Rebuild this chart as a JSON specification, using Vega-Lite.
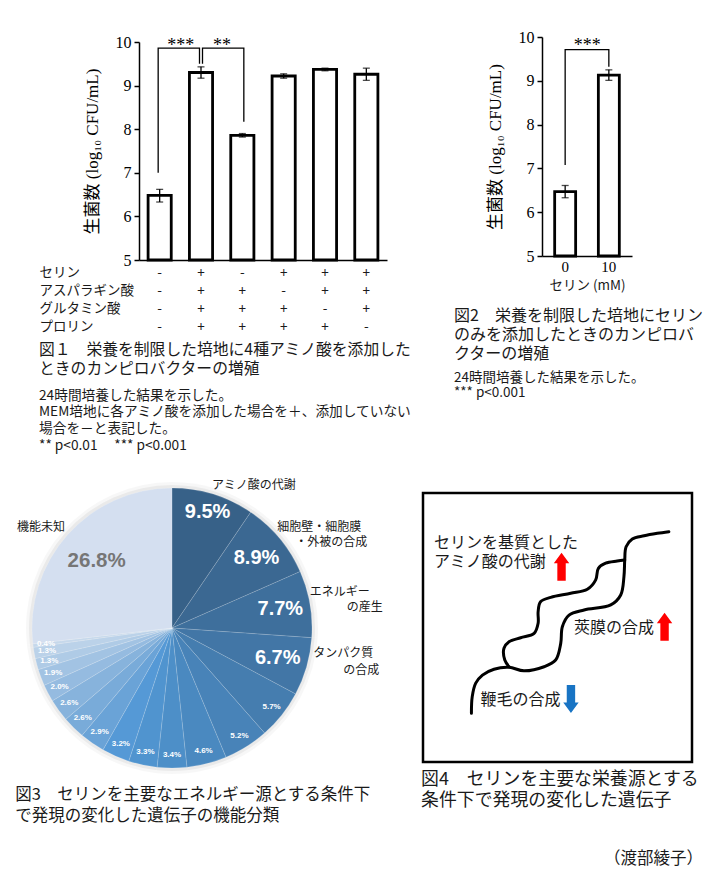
{
  "$schema": "https://vega.github.io/schema/vega-lite/v6.json",
  "background": "white",
  "padding": {"left": 13, "top": 29, "right": 0, "bottom": 0},
  "bounds": "flush",
  "spacing": 456,
  "config": {
    "view": {"stroke": null},
    "font": "Noto Sans CJK JP",
    "axis": {"grid": false},
    "title": {"fontWeight": "normal"}
  },
  "title": {"text": "（渡部綾子）", "orient": "bottom", "anchor": "end", "frame": "bounds", "fontSize": 16.5, "fontWeight": "normal", "font": "Noto Sans CJK JP", "color": "#1a1a1a", "offset": 26},
  "datasets": {
    "fig1": [
      {"cond": "-|-|-|-", "mean": 6.48, "lo": 6.33, "hi": 6.62},
      {"cond": "+|+|+|+", "mean": 9.30, "lo": 9.17, "hi": 9.43},
      {"cond": "-|+|+|+", "mean": 7.86, "lo": 7.82, "hi": 7.90},
      {"cond": "+|-|+|+", "mean": 9.22, "lo": 9.17, "hi": 9.27},
      {"cond": "+|+|-|+", "mean": 9.37, "lo": 9.34, "hi": 9.40},
      {"cond": "+|+|+|-", "mean": 9.26, "lo": 9.12, "hi": 9.40}
    ],
    "fig1br": [
      {"br": "a", "step": 1, "cond": "-|-|-|-", "y": 7.0},
      {"br": "a", "step": 2, "cond": "-|-|-|-", "y": 9.86},
      {"br": "a", "step": 3, "cond": "+|+|+|+", "y": 9.86},
      {"br": "a", "step": 4, "cond": "+|+|+|+", "y": 9.5},
      {"br": "b", "step": 1, "cond": "+|+|+|+", "y": 9.5},
      {"br": "b", "step": 2, "cond": "+|+|+|+", "y": 9.86},
      {"br": "b", "step": 3, "cond": "-|+|+|+", "y": 9.86},
      {"br": "b", "step": 4, "cond": "-|+|+|+", "y": 8.17}
    ],
    "fig1st": [
      {"cond": "-|-|-|-", "label": "***"},
      {"cond": "+|+|+|+", "label": "**"}
    ],
    "fig2": [
      {"serine": "0", "mean": 6.47, "lo": 6.33, "hi": 6.61},
      {"serine": "10", "mean": 9.13, "lo": 9.01, "hi": 9.25}
    ],
    "fig2br": [
      {"step": 1, "serine": "0", "y": 7.08},
      {"step": 2, "serine": "0", "y": 9.71},
      {"step": 3, "serine": "10", "y": 9.71},
      {"step": 4, "serine": "10", "y": 9.32}
    ],
    "fig2st": [{"serine": "0", "label": "***"}],
    "pie": [
      {"id": 1, "pct": 9.5, "label": "9.5%", "name": "アミノ酸の代謝", "name2": ""},
      {"id": 2, "pct": 8.9, "label": "8.9%", "name": "細胞壁・細胞膜", "name2": "・外被の合成"},
      {"id": 3, "pct": 7.7, "label": "7.7%", "name": "エネルギー", "name2": "の産生"},
      {"id": 4, "pct": 6.7, "label": "6.7%", "name": "タンパク質", "name2": "の合成"},
      {"id": 5, "pct": 5.7, "label": "5.7%", "name": "", "name2": ""},
      {"id": 6, "pct": 5.2, "label": "5.2%", "name": "", "name2": ""},
      {"id": 7, "pct": 4.6, "label": "4.6%", "name": "", "name2": ""},
      {"id": 8, "pct": 3.4, "label": "3.4%", "name": "", "name2": ""},
      {"id": 9, "pct": 3.3, "label": "3.3%", "name": "", "name2": ""},
      {"id": 10, "pct": 3.2, "label": "3.2%", "name": "", "name2": ""},
      {"id": 11, "pct": 2.9, "label": "2.9%", "name": "", "name2": ""},
      {"id": 12, "pct": 2.6, "label": "2.6%", "name": "", "name2": ""},
      {"id": 13, "pct": 2.6, "label": "2.6%", "name": "", "name2": ""},
      {"id": 14, "pct": 2.0, "label": "2.0%", "name": "", "name2": ""},
      {"id": 15, "pct": 1.9, "label": "1.9%", "name": "", "name2": ""},
      {"id": 16, "pct": 1.3, "label": "1.3%", "name": "", "name2": ""},
      {"id": 17, "pct": 1.3, "label": "1.3%", "name": "", "name2": ""},
      {"id": 18, "pct": 0.4, "label": "0.4%", "name": "", "name2": ""},
      {"id": 19, "pct": 26.8, "label": "26.8%", "name": "機能未知", "name2": ""}
    ],
    "cell": [
      {"path": "a", "step": 1, "x": 18.0, "y": 18.1},
      {"path": "a", "step": 2, "x": 18.3, "y": 24.3},
      {"path": "a", "step": 3, "x": 19.6, "y": 29.3},
      {"path": "a", "step": 4, "x": 22.1, "y": 32.3},
      {"path": "a", "step": 5, "x": 26.4, "y": 34.5},
      {"path": "a", "step": 6, "x": 32.0, "y": 35.2},
      {"path": "a", "step": 7, "x": 37.5, "y": 33.9},
      {"path": "a", "step": 8, "x": 45.0, "y": 35.4},
      {"path": "a", "step": 9, "x": 49.3, "y": 37.9},
      {"path": "a", "step": 10, "x": 51.2, "y": 44.1},
      {"path": "a", "step": 11, "x": 51.8, "y": 50.3},
      {"path": "a", "step": 12, "x": 54.3, "y": 54.6},
      {"path": "a", "step": 13, "x": 59.9, "y": 56.5},
      {"path": "a", "step": 14, "x": 69.8, "y": 58.4},
      {"path": "a", "step": 15, "x": 73.5, "y": 62.1},
      {"path": "a", "step": 16, "x": 74.7, "y": 68.9},
      {"path": "a", "step": 17, "x": 75.0, "y": 75.1},
      {"path": "a", "step": 18, "x": 75.5, "y": 80.0},
      {"path": "a", "step": 19, "x": 77.8, "y": 82.9},
      {"path": "a", "step": 20, "x": 82.2, "y": 84.1},
      {"path": "a", "step": 21, "x": 87.1, "y": 85.0},
      {"path": "a", "step": 22, "x": 91.4, "y": 85.6},
      {"path": "b", "step": 1, "x": 32.0, "y": 35.4},
      {"path": "b", "step": 2, "x": 30.4, "y": 37.9},
      {"path": "b", "step": 3, "x": 30.1, "y": 42.3},
      {"path": "b", "step": 4, "x": 32.0, "y": 44.7},
      {"path": "b", "step": 5, "x": 36.3, "y": 46.2},
      {"path": "b", "step": 6, "x": 41.3, "y": 47.8},
      {"path": "b", "step": 7, "x": 42.8, "y": 51.6},
      {"path": "b", "step": 8, "x": 42.8, "y": 55.9},
      {"path": "b", "step": 9, "x": 43.7, "y": 59.6},
      {"path": "b", "step": 10, "x": 47.5, "y": 61.2},
      {"path": "b", "step": 11, "x": 54.9, "y": 62.7},
      {"path": "b", "step": 12, "x": 61.1, "y": 64.2},
      {"path": "b", "step": 13, "x": 64.2, "y": 67.7},
      {"path": "b", "step": 14, "x": 65.2, "y": 72.0},
      {"path": "b", "step": 15, "x": 67.9, "y": 73.9},
      {"path": "b", "step": 16, "x": 72.2, "y": 74.7},
      {"path": "b", "step": 17, "x": 75.0, "y": 75.1}
    ],
    "arrows": [
      {"key": 1, "dir": "up", "x": 51.5, "y": 72.6, "label": "セリンを基質とした\nアミノ酸の代謝"},
      {"key": 2, "dir": "up", "x": 89.8, "y": 50.3, "label": "莢膜の合成"},
      {"key": 3, "dir": "down", "x": 55.0, "y": 23.4, "label": "鞭毛の合成"}
    ]
  },
  "vconcat": [
    {
      "bounds": "flush",
      "spacing": 155,
      "hconcat": [
        {
          "width": 248,
          "height": 223,
          "title": {
            "text": ["図１　栄養を制限した培地に4種アミノ酸を添加した", "ときのカンピロバクターの増殖"],
            "subtitle": ["24時間培養した結果を示した。", "MEM培地に各アミノ酸を添加した場合を＋、添加していない", "場合を－と表記した。", "** p<0.01　 *** p<0.001"],
            "orient": "bottom", "anchor": "start", "frame": "bounds", "offset": 10,
            "font": "Noto Sans CJK JP", "fontSize": 15.8, "fontWeight": "normal", "lineHeight": 18.5, "color": "#1a1a1a",
            "subtitleFont": "Noto Sans CJK JP", "subtitleFontSize": 13.7, "subtitleLineHeight": 16.7, "subtitleColor": "#1a1a1a", "subtitlePadding": 11
          },
          "data": {"name": "fig1"},
          "encoding": {
            "x": {
              "field": "cond", "type": "nominal",
              "scale": {"domain": ["-|-|-|-", "+|+|+|+", "-|+|+|+", "+|-|+|+", "+|+|-|+", "+|+|+|-"], "paddingInner": 0, "paddingOuter": 0},
              "axis": {
                "title": ["セリン", "アスパラギン酸", "グルタミン酸", "プロリン"],
                "titleX": -100, "titleY": 5, "titleAlign": "left", "titleBaseline": "top", "titleAngle": 0,
                "titleFont": "Noto Sans CJK JP", "titleFontSize": 13.5, "titleFontWeight": "normal", "titleColor": "#1a1a1a", "titleLineHeight": 18.3,
                "labelExpr": "split(datum.value, '|')", "labelAngle": 0, "labelFont": "Noto Sans CJK JP", "labelFontSize": 13.5, "labelColor": "#1a1a1a",
                "labelLineHeight": 18.3, "labelPadding": 5, "labelBaseline": "top",
                "ticks": false, "tickSize": 0, "domainColor": "black", "domainWidth": 1.5
              }
            }
          },
          "layer": [
            {
              "mark": {"type": "bar", "fill": "white", "stroke": "black", "strokeWidth": 2.8, "width": {"band": 0.56}},
              "encoding": {
                "y": {
                  "field": "mean", "type": "quantitative",
                  "scale": {"domain": [5, 10], "range": [223, 5], "nice": false, "zero": false},
                  "axis": {
                    "values": [5, 6, 7, 8, 9, 10], "format": "d",
                    "title": "生菌数 (log₁₀ CFU/mL)", "titleFont": "Liberation Serif, Noto Sans CJK JP", "titleFontSize": 17, "titleFontWeight": "normal", "titleColor": "black", "titlePadding": 14,
                    "labelFont": "Liberation Serif", "labelFontSize": 16, "labelColor": "black", "labelPadding": 3,
                    "tickColor": "black", "tickSize": 5, "tickWidth": 1.5, "domainColor": "black", "domainWidth": 1.5
                  }
                },
                "y2": {"datum": 5}
              }
            },
            {
              "mark": {"type": "rule", "color": "black", "strokeWidth": 1.3},
              "encoding": {
                "y": {"field": "lo", "type": "quantitative", "scale": {"domain": [5, 10], "range": [223, 5], "nice": false, "zero": false}},
                "y2": {"field": "hi"}
              }
            },
            {
              "mark": {"type": "tick", "color": "black", "thickness": 1.3, "size": 7},
              "encoding": {"y": {"field": "lo", "type": "quantitative", "scale": {"domain": [5, 10], "range": [223, 5], "nice": false, "zero": false}}}
            },
            {
              "mark": {"type": "tick", "color": "black", "thickness": 1.3, "size": 7},
              "encoding": {"y": {"field": "hi", "type": "quantitative", "scale": {"domain": [5, 10], "range": [223, 5], "nice": false, "zero": false}}}
            },
            {
              "data": {"name": "fig1br"},
              "transform": [{"filter": "datum.br == 'a'"}],
              "mark": {"type": "line", "color": "black", "strokeWidth": 1.3, "xOffset": -1.5},
              "encoding": {
                "y": {"field": "y", "type": "quantitative", "scale": {"domain": [5, 10], "range": [223, 5], "nice": false, "zero": false}},
                "order": {"field": "step", "type": "quantitative"}
              }
            },
            {
              "data": {"name": "fig1br"},
              "transform": [{"filter": "datum.br == 'b'"}],
              "mark": {"type": "line", "color": "black", "strokeWidth": 1.3, "xOffset": 1.5},
              "encoding": {
                "y": {"field": "y", "type": "quantitative", "scale": {"domain": [5, 10], "range": [223, 5], "nice": false, "zero": false}},
                "order": {"field": "step", "type": "quantitative"}
              }
            },
            {
              "data": {"name": "fig1st"},
              "mark": {"type": "text", "font": "Liberation Serif", "fontSize": 18, "dx": 21, "baseline": "alphabetic", "color": "black"},
              "encoding": {
                "text": {"field": "label"},
                "y": {"datum": 9.8, "type": "quantitative", "scale": {"domain": [5, 10], "range": [223, 5], "nice": false, "zero": false}}
              }
            }
          ]
        },
        {
          "width": 90,
          "height": 219,
          "title": {
            "text": ["図2　栄養を制限した培地にセリン", "のみを添加したときのカンピロバ", "クターの増殖"],
            "subtitle": ["24時間培養した結果を示した。", "*** p<0.001"],
            "orient": "bottom", "anchor": "start", "frame": "bounds", "offset": 16, "dx": -32,
            "font": "Noto Sans CJK JP", "fontSize": 16, "fontWeight": "normal", "lineHeight": 19, "color": "#1a1a1a",
            "subtitleFont": "Noto Sans CJK JP", "subtitleFontSize": 13.5, "subtitleLineHeight": 15, "subtitleColor": "#1a1a1a", "subtitlePadding": 9
          },
          "data": {"name": "fig2"},
          "encoding": {
            "x": {
              "field": "serine", "type": "nominal",
              "scale": {"domain": ["0", "10"], "paddingInner": 0, "paddingOuter": 0.03},
              "axis": {
                "title": "セリン (mM)", "titleFont": "Noto Sans CJK JP", "titleFontSize": 13.5, "titleFontWeight": "normal", "titleColor": "#1a1a1a", "titlePadding": 4,
                "labelFont": "Liberation Serif", "labelFontSize": 15, "labelColor": "black", "labelAngle": 0, "labelPadding": 3,
                "ticks": false, "tickSize": 0, "domainColor": "black", "domainWidth": 1.5
              }
            }
          },
          "layer": [
            {
              "mark": {"type": "bar", "fill": "white", "stroke": "black", "strokeWidth": 2.8, "width": {"band": 0.48}},
              "encoding": {
                "y": {
                  "field": "mean", "type": "quantitative",
                  "scale": {"domain": [5, 10], "nice": false, "zero": false},
                  "axis": {
                    "values": [5, 6, 7, 8, 9, 10], "format": "d",
                    "title": "生菌数 (log₁₀ CFU/mL)", "titleFont": "Liberation Serif, Noto Sans CJK JP", "titleFontSize": 17, "titleFontWeight": "normal", "titleColor": "black", "titlePadding": 14,
                    "labelFont": "Liberation Serif", "labelFontSize": 16, "labelColor": "black", "labelPadding": 3,
                    "tickColor": "black", "tickSize": 5, "tickWidth": 1.5, "domainColor": "black", "domainWidth": 1.5
                  }
                },
                "y2": {"datum": 5}
              }
            },
            {
              "mark": {"type": "rule", "color": "black", "strokeWidth": 1.3},
              "encoding": {
                "y": {"field": "lo", "type": "quantitative", "scale": {"domain": [5, 10], "nice": false, "zero": false}},
                "y2": {"field": "hi"}
              }
            },
            {
              "mark": {"type": "tick", "color": "black", "thickness": 1.3, "size": 7},
              "encoding": {"y": {"field": "lo", "type": "quantitative", "scale": {"domain": [5, 10], "nice": false, "zero": false}}}
            },
            {
              "mark": {"type": "tick", "color": "black", "thickness": 1.3, "size": 7},
              "encoding": {"y": {"field": "hi", "type": "quantitative", "scale": {"domain": [5, 10], "nice": false, "zero": false}}}
            },
            {
              "data": {"name": "fig2br"},
              "mark": {"type": "line", "color": "black", "strokeWidth": 1.3},
              "encoding": {
                "y": {"field": "y", "type": "quantitative", "scale": {"domain": [5, 10], "nice": false, "zero": false}},
                "order": {"field": "step", "type": "quantitative"}
              }
            },
            {
              "data": {"name": "fig2st"},
              "mark": {"type": "text", "font": "Liberation Serif", "fontSize": 18, "dx": 22, "baseline": "alphabetic", "color": "black"},
              "encoding": {
                "text": {"field": "label"},
                "y": {"datum": 9.69, "type": "quantitative", "scale": {"domain": [5, 10], "nice": false, "zero": false}}
              }
            }
          ]
        }
      ]
    },
    {
      "bounds": "flush",
      "spacing": 218,
      "hconcat": [
        {
          "width": 66,
          "height": 270,
          "title": {
            "text": ["図3　セリンを主要なエネルギー源とする条件下", "で発現の変化した遺伝子の機能分類"],
            "orient": "bottom", "anchor": "start", "frame": "bounds", "offset": -7, "dx": 2,
            "font": "Noto Sans CJK JP", "fontSize": 16.5, "fontWeight": "normal", "lineHeight": 21, "color": "#1a1a1a"
          },
          "data": {"name": "pie"},
          "encoding": {
            "theta": {"field": "pct", "type": "quantitative", "stack": true},
            "order": {"field": "id", "type": "quantitative"},
            "detail": {"field": "id", "type": "nominal"}
          },
          "layer": [
            {"mark": {"type": "arc", "radius": 146, "color": "#000000", "opacity": 0.03}},
            {"mark": {"type": "arc", "radius": 143, "color": "#000000", "opacity": 0.05}},
            {
              "mark": {"type": "arc", "radius": 140, "stroke": "#ffffff", "strokeWidth": 0.5, "strokeOpacity": 0.3},
              "encoding": {
                "color": {
                  "field": "id", "type": "nominal", "legend": null,
                  "scale": {
                    "domain": [1, 2, 3, 4, 5, 6, 7, 8, 9, 10, 11, 12, 13, 14, 15, 16, 17, 18, 19],
                    "range": ["#376188", "#3b6892", "#3e6f9c", "#4276a6", "#457daf", "#4883b8", "#4a89c0", "#4d8fc8", "#5094cf", "#5599d6", "#6aa3d7", "#79abd9", "#87b3dc", "#95bbe0", "#a2c3e3", "#afcbe6", "#bbd2e9", "#c6d8eb", "#d4dff0"]
                  }
                }
              }
            },
            {
              "mark": {"type": "text", "radius": 121, "font": "Liberation Sans", "fontSize": 20, "fontWeight": "bold", "color": "white"},
              "encoding": {"text": {"condition": {"test": "datum.id == 1", "field": "label"}, "value": ""}}
            },
            {
              "mark": {"type": "text", "radius": 110, "font": "Liberation Sans", "fontSize": 20, "fontWeight": "bold", "color": "white"},
              "encoding": {"text": {"condition": {"test": "datum.id >= 2 && datum.id <= 4", "field": "label"}, "value": ""}}
            },
            {
              "mark": {"type": "text", "radius": 101, "font": "Liberation Sans", "fontSize": 20.5, "fontWeight": "bold", "color": "#767676"},
              "encoding": {"text": {"condition": {"test": "datum.id == 19", "field": "label"}, "value": ""}}
            },
            {
              "mark": {"type": "text", "radius": 127, "font": "Liberation Sans", "fontSize": 8, "fontWeight": "bold", "color": "white"},
              "encoding": {"text": {"condition": {"test": "datum.id >= 5 && datum.id <= 18", "field": "label"}, "value": ""}}
            },
            {
              "mark": {"type": "text", "radius": 150, "align": "left", "baseline": "middle", "dx": -4, "fontSize": 12, "color": "#1a1a1a"},
              "encoding": {"text": {"condition": {"test": "datum.id == 1", "field": "name"}, "value": ""}}
            },
            {
              "mark": {"type": "text", "radius": 150, "align": "left", "baseline": "middle", "dx": -10, "dy": -5, "fontSize": 12, "color": "#1a1a1a"},
              "encoding": {"text": {"condition": {"test": "datum.id == 2", "field": "name"}, "value": ""}}
            },
            {
              "mark": {"type": "text", "radius": 150, "align": "left", "baseline": "middle", "dx": 8, "dy": 10, "fontSize": 12, "color": "#1a1a1a"},
              "encoding": {"text": {"condition": {"test": "datum.id == 2", "field": "name2"}, "value": ""}}
            },
            {
              "mark": {"type": "text", "radius": 150, "align": "left", "baseline": "middle", "dx": -10, "dy": -10, "fontSize": 12, "color": "#1a1a1a"},
              "encoding": {"text": {"condition": {"test": "datum.id == 3", "field": "name"}, "value": ""}}
            },
            {
              "mark": {"type": "text", "radius": 150, "align": "left", "baseline": "middle", "dx": 27, "dy": 5, "fontSize": 12, "color": "#1a1a1a"},
              "encoding": {"text": {"condition": {"test": "datum.id == 3", "field": "name2"}, "value": ""}}
            },
            {
              "mark": {"type": "text", "radius": 150, "align": "left", "baseline": "middle", "dx": -3, "dy": -16, "fontSize": 12, "color": "#1a1a1a"},
              "encoding": {"text": {"condition": {"test": "datum.id == 4", "field": "name"}, "value": ""}}
            },
            {
              "mark": {"type": "text", "radius": 150, "align": "left", "baseline": "middle", "dx": 27, "dy": 1, "fontSize": 12, "color": "#1a1a1a"},
              "encoding": {"text": {"condition": {"test": "datum.id == 4", "field": "name2"}, "value": ""}}
            },
            {
              "mark": {"type": "text", "radius": 150, "align": "right", "baseline": "middle", "dx": 5, "dy": -1, "fontSize": 12, "color": "#1a1a1a"},
              "encoding": {"text": {"condition": {"test": "datum.id == 19", "field": "name"}, "value": ""}}
            }
          ]
        },
        {
          "width": 269,
          "height": 269,
          "view": {"stroke": "black", "strokeWidth": 2.5},
          "title": {
            "text": ["図4　セリンを主要な栄養源とする", "条件下で発現の変化した遺伝子"],
            "orient": "bottom", "anchor": "start", "frame": "group", "offset": 9, "dx": -2,
            "font": "Noto Sans CJK JP", "fontSize": 17.9, "fontWeight": "normal", "lineHeight": 20.5, "color": "#1a1a1a"
          },
          "layer": [
            {
              "data": {"name": "cell"},
              "mark": {"type": "line", "interpolate": "catmull-rom", "color": "black", "strokeWidth": 3, "strokeCap": "round"},
              "encoding": {
                "x": {"field": "x", "type": "quantitative", "scale": {"domain": [0, 100], "nice": false, "zero": false}, "axis": null},
                "y": {"field": "y", "type": "quantitative", "scale": {"domain": [0, 100], "nice": false, "zero": false}, "axis": null},
                "detail": {"field": "path"},
                "order": {"field": "step", "type": "quantitative"}
              }
            },
            {
              "data": {"name": "arrows"},
              "transform": [{"filter": "datum.dir == 'up'"}],
              "mark": {"type": "point", "shape": "M-0.3,1L0.3,1L0.3,-0.25L0.55,-0.25L0,-1L-0.55,-0.25L-0.3,-0.25Z", "size": 784, "filled": true, "color": "#ff0000", "opacity": 1, "strokeWidth": 0},
              "encoding": {
                "x": {"field": "x", "type": "quantitative"},
                "y": {"field": "y", "type": "quantitative"}
              }
            },
            {
              "data": {"name": "arrows"},
              "transform": [{"filter": "datum.dir == 'down'"}],
              "mark": {"type": "point", "shape": "M-0.3,-1L0.3,-1L0.3,0.25L0.55,0.25L0,1L-0.55,0.25L-0.3,0.25Z", "size": 784, "filled": true, "color": "#1874c4", "opacity": 1, "strokeWidth": 0},
              "encoding": {
                "x": {"field": "x", "type": "quantitative"},
                "y": {"field": "y", "type": "quantitative"}
              }
            },
            {
              "data": {"name": "arrows"},
              "transform": [{"filter": "datum.key == 1"}],
              "mark": {"type": "text", "align": "left", "baseline": "top", "dx": -127.5, "dy": -31.5, "fontSize": 16, "lineHeight": 18.4, "color": "#1a1a1a", "lineBreak": "\n"},
              "encoding": {
                "x": {"field": "x", "type": "quantitative"},
                "y": {"field": "y", "type": "quantitative"},
                "text": {"field": "label"}
              }
            },
            {
              "data": {"name": "arrows"},
              "transform": [{"filter": "datum.key != 1"}],
              "mark": {"type": "text", "align": "right", "baseline": "middle", "dx": -10.5, "dy": 1, "fontSize": 16, "color": "#1a1a1a"},
              "encoding": {
                "x": {"field": "x", "type": "quantitative"},
                "y": {"field": "y", "type": "quantitative"},
                "text": {"field": "label"}
              }
            }
          ]
        }
      ]
    }
  ]
}
